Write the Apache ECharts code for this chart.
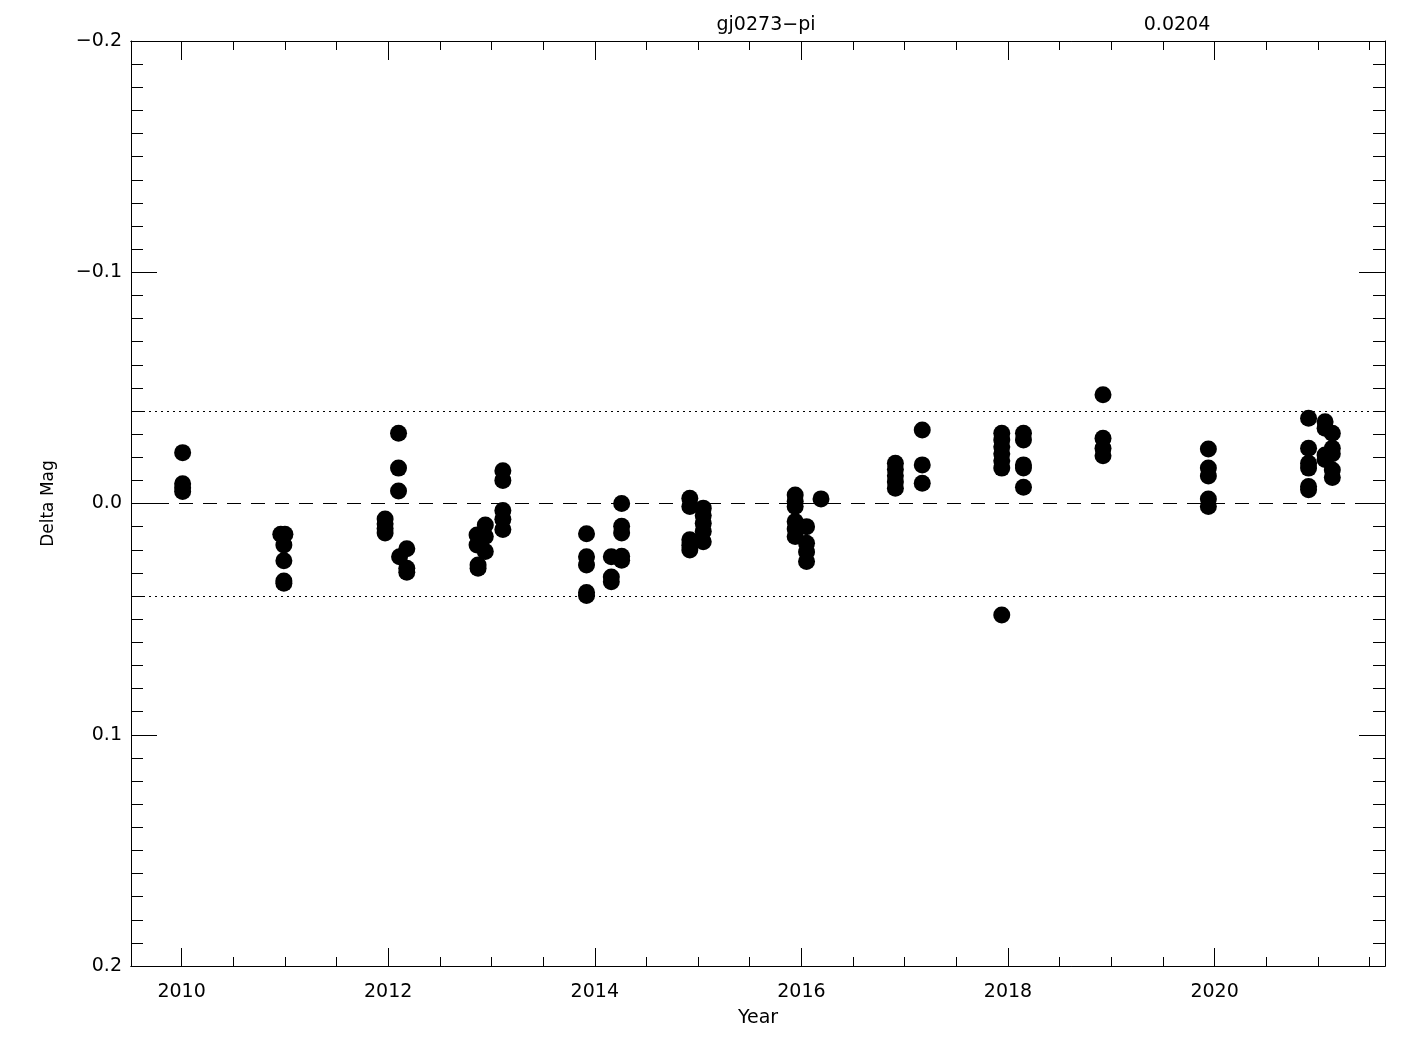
<!DOCTYPE html>
<html>
<head>
<meta charset="utf-8">
<script src="https://cdn.jsdelivr.net/npm/echarts@6/dist/echarts.min.js"></script>
<style>html,body{margin:0;padding:0;background:#fff;}#c{width:1425px;height:1050px;}</style>
</head>
<body>
<div id="c"></div>
<script>
// ---- data ----
const obsYear = [
  2010.01, 2010.01, 2010.01, 2010.01,
  2010.96, 2011.00, 2010.99, 2010.99, 2010.99, 2010.99,
  2011.97, 2011.97, 2011.97, 2011.97, 2012.10, 2012.10, 2012.10, 2012.18, 2012.11, 2012.18, 2012.18,
  2012.94, 2012.86, 2012.94, 2012.86, 2012.94, 2012.87, 2012.87,
  2013.11, 2013.11, 2013.11, 2013.11, 2013.11,
  2013.92, 2013.92, 2013.92, 2013.92, 2013.92,
  2014.16, 2014.16, 2014.16,
  2014.26, 2014.26, 2014.26, 2014.26, 2014.26,
  2014.92, 2014.92, 2014.92, 2014.92, 2014.92,
  2015.05, 2015.05, 2015.05, 2015.05, 2015.05,
  2015.94, 2015.94, 2015.94, 2015.94, 2015.94, 2015.94,
  2016.05, 2016.05, 2016.05, 2016.05, 2016.19,
  2016.91, 2016.91, 2016.91, 2016.91, 2016.91,
  2017.17, 2017.17, 2017.17,
  2017.94, 2017.94, 2017.94, 2017.94, 2017.94, 2017.94, 2017.94,
  2018.15, 2018.15, 2018.15, 2018.15, 2018.15,
  2018.92, 2018.92, 2018.92, 2018.92,
  2019.94, 2019.94, 2019.94, 2019.94, 2019.94,
  2020.91, 2020.91, 2020.91, 2020.91, 2020.91, 2020.91,
  2021.07, 2021.07, 2021.07, 2021.07,
  2021.14, 2021.14, 2021.14, 2021.14, 2021.14
];
const deltaMag = [
  -0.0220, -0.0085, -0.0068, -0.0052,
  0.0133, 0.0133, 0.0179, 0.0248, 0.0335, 0.0345,
  0.0067, 0.0088, 0.0108, 0.0128, -0.0304, -0.0153, -0.0054, 0.0196, 0.0230, 0.0280, 0.0297,
  0.0093, 0.0136, 0.0143, 0.0179, 0.0208, 0.0266, 0.0280,
  -0.0142, -0.0100, 0.0030, 0.0068, 0.0112,
  0.0131, 0.0230, 0.0266, 0.0385, 0.0398,
  0.0230, 0.0318, 0.0338,
  0.0000, 0.0098, 0.0128, 0.0228, 0.0245,
  -0.0023, 0.0013, 0.0157, 0.0180, 0.0201,
  0.0020, 0.0052, 0.0085, 0.0120, 0.0165,
  -0.0037, -0.0010, 0.0013, 0.0078, 0.0110, 0.0143,
  0.0100, 0.0172, 0.0210, 0.0251, -0.0020,
  -0.0174, -0.0147, -0.0120, -0.0093, -0.0066,
  -0.0318, -0.0167, -0.0088,
  -0.0304, -0.0275, -0.0245, -0.0215, -0.0185, -0.0153, 0.0482,
  -0.0304, -0.0275, -0.0167, -0.0154, -0.0070,
  -0.0470, -0.0282, -0.0239, -0.0206,
  -0.0236, -0.0153, -0.0119, -0.0019, 0.0013,
  -0.0369, -0.0239, -0.0174, -0.0153, -0.0073, -0.0060,
  -0.0354, -0.0325, -0.0210, -0.0190,
  -0.0304, -0.0239, -0.0215, -0.0145, -0.0112
];
const sigma = 0.0204;
const limitLines = [-2 * sigma, 2 * sigma];
const xMajorTicks = [2010, 2012, 2014, 2016, 2018, 2020];
const xMinorTicks = [2010.5, 2011, 2011.5, 2012.5, 2013, 2013.5, 2014.5, 2015, 2015.5,
                     2016.5, 2017, 2017.5, 2018.5, 2019, 2019.5, 2020.5, 2021, 2021.5];
const titleText = 'gj0273\u2212pi';
const sigmaText = '0.0204';

// ---- chart ----
const FONT = 'DejaVu Sans';
const chart = echarts.init(document.getElementById('c'), null, {renderer: 'canvas'});
const xMin = 2009.51, xMax = 2021.65;
const axisLine = {show: true, onZero: false, lineStyle: {color: '#000', width: 1}};
function xAxisDef(pos, ticks, len, labels) {
  return {
    type: 'value', position: pos, min: xMin, max: xMax,
    axisLine: axisLine, splitLine: {show: false},
    axisTick: {show: true, inside: true, length: len, customValues: ticks, lineStyle: {color: '#000', width: 1}},
    axisLabel: labels ? {show: true, customValues: xMajorTicks, margin: 17, color: '#000', fontFamily: FONT, fontSize: 19,
                         formatter: v => String(Math.round(v))} : {show: false},
    name: labels ? 'Year' : '', nameLocation: 'middle', nameGap: 43,
    nameTextStyle: {color: '#000', fontFamily: FONT, fontSize: 19}
  };
}
function yAxisDef(pos, labels) {
  return {
    type: 'value', position: pos, min: -0.2, max: 0.2, interval: 0.1, inverse: true,
    axisLine: axisLine, splitLine: {show: false},
    axisTick: {show: true, inside: true, length: 26, lineStyle: {color: '#000', width: 1}},
    minorTick: {show: true, splitNumber: 10, length: 12, lineStyle: {color: '#000', width: 1}},
    minorSplitLine: {show: false},
    axisLabel: labels ? {show: true, margin: 9, color: '#000', fontFamily: FONT, fontSize: 19,
                         formatter: v => (v < -1e-9 ? '\u2212' : '') + Math.abs(v).toFixed(1)} : {show: false},
    name: labels ? 'Delta Mag' : '', nameLocation: 'middle', nameGap: 74, nameRotate: 90,
    nameTextStyle: {color: '#000', fontFamily: FONT, fontSize: 17}
  };
}
const points = obsYear.map((x, i) => [x, deltaMag[i]]);
chart.setOption({
  animation: false,
  backgroundColor: '#fff',
  grid: {left: 131, top: 41, right: 40, bottom: 84, containLabel: false},
  xAxis: [
    xAxisDef('bottom', xMajorTicks, 18, true),
    xAxisDef('top', xMajorTicks, 19, false),
    xAxisDef('bottom', xMinorTicks, 9, false),
    xAxisDef('top', xMinorTicks, 9, false)
  ],
  yAxis: [yAxisDef('left', true), yAxisDef('right', false)],
  graphic: [
    {type: 'text', style: {text: titleText, x: 766, y: 25, textAlign: 'center', textVerticalAlign: 'middle',
      fill: '#000', font: '19px "' + FONT + '"'}},
    {type: 'text', style: {text: sigmaText, x: 1177, y: 25, textAlign: 'center', textVerticalAlign: 'middle',
      fill: '#000', font: '19px "' + FONT + '"'}}
  ],
  series: [{
    type: 'scatter', xAxisIndex: 0, yAxisIndex: 0,
    data: points, symbol: 'circle', symbolSize: 17,
    itemStyle: {color: '#000', opacity: 1},
    markLine: {
      silent: true, symbol: 'none', label: {show: false}, animation: false,
      data: [
        {yAxis: 0, lineStyle: {color: '#000', width: 1, type: [14, 10], opacity: 1}},
        {yAxis: limitLines[0], lineStyle: {color: '#000', width: 1, type: [2, 4], opacity: 1}},
        {yAxis: limitLines[1], lineStyle: {color: '#000', width: 1, type: [2, 4], opacity: 1}}
      ]
    }
  }]
});
</script>
</body>
</html>
